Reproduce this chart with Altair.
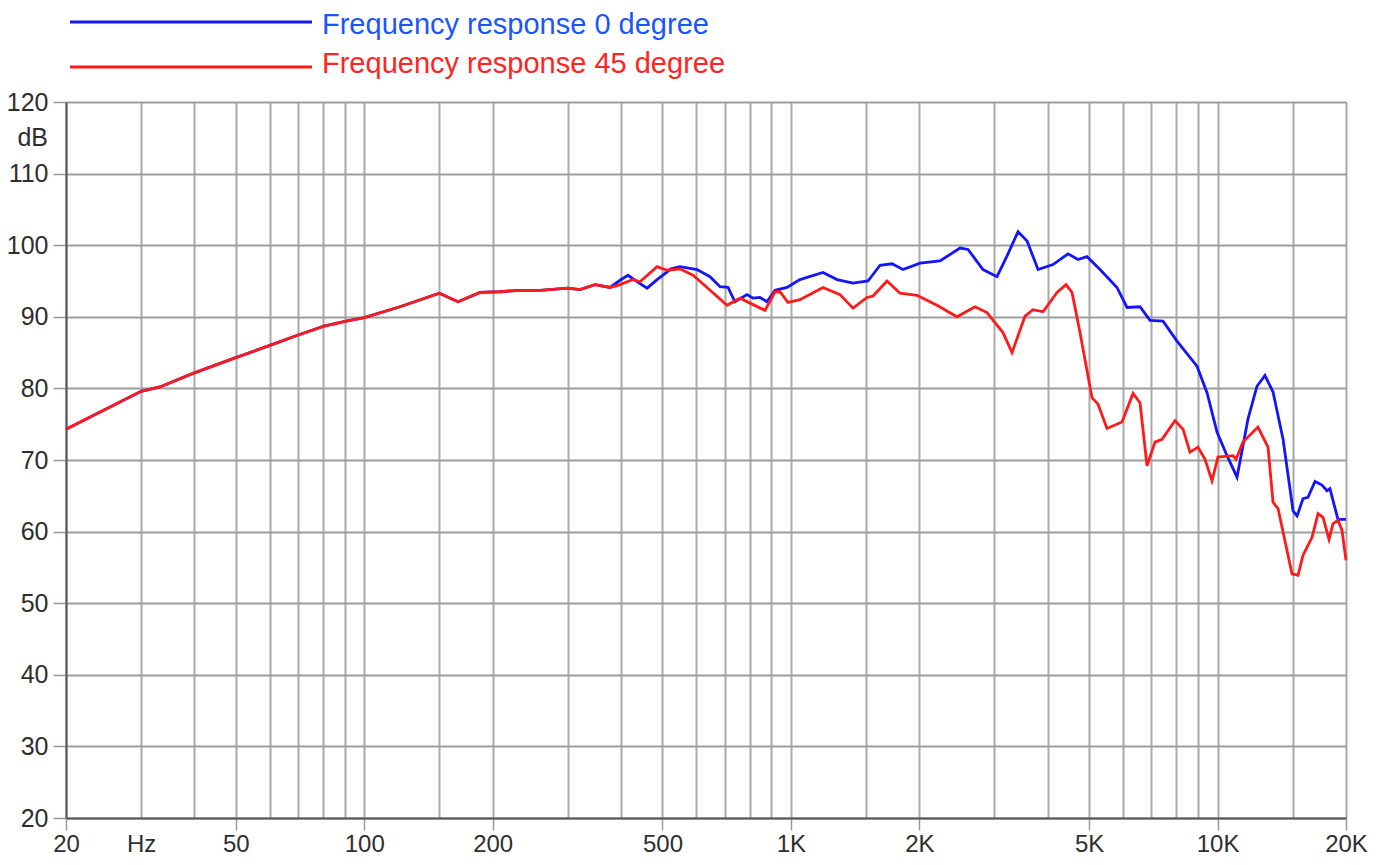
import altair as alt
import pandas as pd

# ---- data (frequency in Hz, level in dB) ----
red_freq = [20, 30, 33.2, 39.7, 50, 60.1, 70.3, 80.5, 90.7, 100, 121.3, 150, 165.9, 186.8, 208.1,
            231.8, 258.3, 300, 320.4, 347.5, 376.8, 397.7, 426.6, 443, 485.7, 512.6, 549.8, 589.8,
            636, 708.5, 760.1, 815.2, 869.8, 917.9, 943, 984.5, 1050, 1189, 1304, 1398, 1508, 1558,
            1680, 1802, 1975, 2200, 2451, 2701, 2881, 3141, 3298, 3538, 3694, 3899, 4205, 4414,
            4559, 4760, 5078, 5246, 5507, 5971, 6337, 6580, 6833, 7135, 7410, 7947, 8299, 8618,
            8998, 9345, 9704, 10023, 10870, 11050, 11470, 12435, 13130, 13490, 13860, 14945, 15440,
            15860, 16650, 17200, 17670, 18250, 18640, 19150, 19570, 20000]
red_db = [74.3, 79.6, 80.2, 82.1, 84.3, 86.0, 87.5, 88.7, 89.4, 89.9, 91.4, 93.3, 92.1, 93.4, 93.5,
          93.7, 93.7, 94.0, 93.8, 94.5, 94.1, 94.5, 95.2, 94.9, 97.0, 96.5, 96.7, 95.8,
          94.1, 91.6, 92.6, 91.7, 90.9, 93.5, 93.5, 92.0, 92.4, 94.1, 93.1, 91.2, 92.7, 92.9,
          95.0, 93.3, 93.0, 91.6, 90.0, 91.4, 90.6, 87.8, 85.0, 90.1, 91.0, 90.7, 93.4, 94.5,
          93.4, 87.8, 78.7, 77.8, 74.4, 75.3, 79.3, 78.0, 69.2, 72.5, 72.9, 75.5, 74.3, 71.1,
          71.8, 70.1, 67.1, 70.4, 70.6, 70.1, 72.5, 74.6, 71.8, 64.1, 63.2, 54.1, 53.9,
          56.7, 59.2, 62.5, 62.0, 58.9, 61.1, 61.6, 60.2, 56.0]

blue_freq = [20, 30, 33.2, 39.7, 50, 60.1, 70.3, 80.5, 90.7, 100, 121.3, 150, 165.9, 186.8, 208.1,
             231.8, 258.3, 300, 320.4, 347.5, 376.8, 397.7, 415.2, 435.9, 460.1, 485.7, 523.8,
             549.8, 602.6, 646.3, 682.2, 712.1, 739.6, 789, 815.2, 846.2, 879, 917.9, 979.3, 1050,
             1189, 1283, 1398, 1516, 1618, 1726, 1831, 2008, 2236, 2491, 2601, 2820, 3041, 3211,
             3407, 3577, 3795, 4115, 4462, 4709, 4943, 5303, 5812, 6135, 6580, 6945, 7451, 8035,
             8950, 9447, 9970, 10523, 11107, 11783, 12368, 12915, 13490, 14240, 15030, 15360,
             15860, 16290, 16920, 17570, 18050, 18340, 19150, 20000]
blue_db = [74.3, 79.6, 80.2, 82.1, 84.3, 86.0, 87.5, 88.7, 89.4, 89.9, 91.4, 93.3, 92.1, 93.4, 93.5,
           93.7, 93.7, 94.0, 93.8, 94.5, 94.1, 95.1, 95.8, 94.9, 94.0, 95.2, 96.7,
           97.0, 96.6, 95.6, 94.2, 94.1, 92.1, 93.1, 92.6, 92.7, 92.1, 93.7, 94.1, 95.2,
           96.2, 95.2, 94.7, 95.0, 97.2, 97.4, 96.6, 97.5, 97.8, 99.6, 99.4, 96.6, 95.6, 98.5,
           101.9, 100.6, 96.6, 97.3, 98.8, 98.0, 98.4, 96.6, 94.1, 91.3, 91.4, 89.5, 89.4, 86.6,
           83.1, 79.4, 73.9, 70.6, 67.6, 75.7, 80.3, 81.8, 79.5, 72.9, 62.9, 62.2,
           64.6, 64.8, 67.0, 66.5, 65.7, 66.0, 61.7, 61.7]

series_names = ["Frequency response 0 degree", "Frequency response 45 degree"]
series_colors = ["#1414ff", "#ff1a1a"]
legend_text_colors = ["#1c55ff", "#ff2424"]

x_grid = [20, 30, 40, 50, 60, 70, 80, 90, 100, 150, 200, 300, 400, 500, 600, 700, 800, 900,
          1000, 1500, 2000, 3000, 4000, 5000, 6000, 7000, 8000, 9000, 10000, 15000, 20000]
x_label_values = [20, 30, 50, 100, 200, 500, 1000, 2000, 5000, 10000, 20000]
x_label_texts = ["20", "Hz", "50", "100", "200", "500", "1K", "2K", "5K", "10K", "20K"]
x_tick_values = [20, 50, 100, 200, 500, 1000, 2000, 5000, 10000, 20000]
y_values = [20, 30, 40, 50, 60, 70, 80, 90, 100, 110, 120]
y_unit = "dB"

blue_df = pd.DataFrame({"freq": blue_freq, "db": blue_db})
red_df = pd.DataFrame({"freq": red_freq, "db": red_db})

label_expr = ""
for v, t in zip(x_label_values, x_label_texts):
    label_expr += f"datum.value == {v} ? '{t}' : "
label_expr += "''"
tick_test = "indexof([" + ",".join(str(v) for v in x_tick_values) + "], datum.value) >= 0"

FONT = "Liberation Sans"
GRID = "#a9a9a9"
LABEL_SIZE = 25

x_enc = alt.X(
    "freq:Q",
    scale=alt.Scale(type="log", domain=[20, 20000], nice=False),
    axis=alt.Axis(
        values=x_grid, labelExpr=label_expr, title=None, grid=True,
        gridColor=GRID, gridWidth=2, domainColor="#555", domainWidth=2,
        tickColor={"condition": {"test": tick_test, "value": "#999"}, "value": "transparent"},
        tickSize=12, tickWidth=1.5, labelPadding=2, labelFont=FONT, labelFontSize=24,
        labelColor="#2e2e2e", labelOverlap=False, labelFlush=False,
    ),
)
y_enc = alt.Y(
    "db:Q",
    scale=alt.Scale(domain=[20, 120], nice=False),
    axis=alt.Axis(
        values=y_values, title=None, grid=True, gridColor="#9d9d9d", gridWidth=2,
        domainColor="#555", domainWidth=2, tickColor="#999", tickSize=13, tickWidth=1.5,
        labelPadding=5, labelFont=FONT, labelFontSize=LABEL_SIZE, labelColor="#2e2e2e",
        labelOverlap=False,
    ),
)

blue_line = alt.Chart(blue_df).mark_line(color=series_colors[0], strokeWidth=2.8).encode(x=x_enc, y=y_enc)
red_line = alt.Chart(red_df).mark_line(color=series_colors[1], strokeWidth=2.8).encode(x=x_enc, y=y_enc)

one = pd.DataFrame({"k": [0]})
unit_text = alt.Chart(one).mark_text(
    text=y_unit, font=FONT, fontSize=LABEL_SIZE, color="#2e2e2e", align="right", baseline="middle"
).encode(x=alt.value(-18), y=alt.value(36))

legend_layers = []
for i, (name, col, tcol) in enumerate(zip(series_names, series_colors, legend_text_colors)):
    line_y = -80 + i * 45
    base_y = -68 + i * 39
    legend_layers.append(
        alt.Chart(one).mark_rule(color=col, strokeWidth=2.8).encode(
            x=alt.value(4), x2=alt.value(246), y=alt.value(line_y))
    )
    legend_layers.append(
        alt.Chart(one).mark_text(text=name, font=FONT, fontSize=29, color=tcol,
                                 align="left", baseline="alphabetic").encode(
            x=alt.value(256), y=alt.value(base_y))
    )

chart = alt.layer(blue_line, red_line, unit_text, *legend_layers).properties(
    width=1280, height=716,
    padding={"left": 58, "top": 94, "right": 36, "bottom": 39},
    autosize=alt.AutoSizeParams(type="none"),
).configure_view(stroke="#555", strokeWidth=2).configure(background="white")

chart.save("out.html", embed_options={"renderer": "svg", "actions": False})
